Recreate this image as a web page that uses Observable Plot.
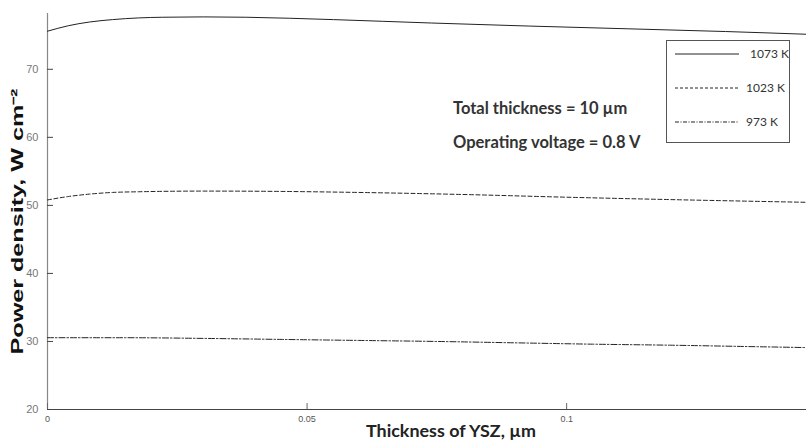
<!DOCTYPE html>
<html><head><meta charset="utf-8">
<script src="https://cdn.jsdelivr.net/npm/d3@7"></script>
<script src="https://cdn.jsdelivr.net/npm/@observablehq/plot@0.6"></script>
<style>
body{margin:0;background:#fff}
#wrap{position:relative;width:806px;height:443px}
.ann{position:absolute;font-family:Lato,sans-serif;font-weight:700;font-size:16.5px;color:#333;white-space:nowrap}
#legend{position:absolute;left:666px;top:40px;width:124px;height:103px;border:1px solid #555;box-sizing:border-box;background:#fff}
#legend .row{position:absolute;left:0;height:14px;font-family:Lato,sans-serif;font-size:12px;color:#333}
</style>
</head><body>
<div id="wrap"></div>
<script>
const series = ["1073 K", "1023 K", "973 K"];
const x1073 = [0, 0.004, 0.0081, 0.0125, 0.0175, 0.0222, 0.03, 0.0382, 0.0551, 0.074, 0.0929, 0.1118, 0.1306, 0.1462];
const y1073 = [75.6, 76.4, 76.95, 77.3, 77.55, 77.65, 77.7, 77.65, 77.3, 76.8, 76.35, 75.95, 75.55, 75.15];
const x1023 = [0, 0.004, 0.008, 0.0125, 0.0175, 0.03, 0.045, 0.06, 0.08, 0.1, 0.12, 0.1462];
const y1023 = [50.8, 51.3, 51.65, 51.9, 52.0, 52.1, 52.05, 51.9, 51.6, 51.2, 50.85, 50.45];
const x973 = [0, 0.015, 0.03, 0.045, 0.06, 0.075, 0.09, 0.105, 0.12, 0.135, 0.1462];
const y973 = [30.55, 30.55, 30.45, 30.3, 30.15, 30.0, 29.8, 29.6, 29.45, 29.25, 29.1];
const xTicks = [0, 0.05, 0.1];
const xTickLabels = ["0", "0.05", "0.1"];
const yTicks = [20, 30, 40, 50, 60, 70];
const dashes = ["none", "4,2.5", "6,2,1.5,2"];

const rows = [];
[[x1073, y1073], [x1023, y1023], [x973, y973]].forEach(([xs, ys], i) => {
  xs.forEach((x, j) => rows.push({series: series[i], x, y: ys[j]}));
});

const chart = Plot.plot({
  width: 806,
  height: 443,
  marginLeft: 47,
  marginRight: 0,
  marginTop: 13,
  marginBottom: 34,
  style: {background: "#fff"},
  x: {domain: [0, 0.1462], axis: null},
  y: {domain: [20, 78.2], axis: null},
  marks: [
    Plot.ruleX([0], {stroke: "#888", strokeWidth: 1.2}),
    Plot.ruleY([20], {stroke: "#444", strokeWidth: 1.2}),
    Plot.axisY(yTicks, {anchor: "left", tickSize: -6, tickPadding: 15, stroke: "#444", fill: "#777", fontSize: 11, fontFamily: "Liberation Sans, Arial, sans-serif", label: null}),
    Plot.axisX(xTicks, {anchor: "bottom", tickSize: -6, tickPadding: 12, stroke: "#666", fill: "#555", fontSize: 9, fontFamily: "Liberation Sans, Arial, sans-serif", tickFormat: (d, i) => xTickLabels[i], label: null}),
    ...series.map((s, i) => Plot.line(rows.filter(r => r.series === s), {x: "x", y: "y", stroke: "#222", strokeWidth: 1, strokeDasharray: dashes[i], curve: "monotone-x"})),
    Plot.text(["Thickness of YSZ, µm"], {frameAnchor: "bottom", dx: 24, dy: 27, fontWeight: "bold", fontSize: 17.5, fontFamily: "Lato, sans-serif", fill: "#222", className: "xtitle"}),
    Plot.text(["Power density, W cm⁻²"], {frameAnchor: "left", textAnchor: "middle", rotate: -90, dx: -30, dy: 10, fontWeight: "bold", fontSize: 16, fontFamily: "Liberation Sans, Arial, sans-serif", fill: "#111", className: "ytitle"})
  ]
});
const wrap = document.getElementById("wrap");
wrap.appendChild(chart);
d3.select(chart).selectAll(".ytitle text").attr("textLength", 266).attr("lengthAdjust", "spacingAndGlyphs");
d3.select(chart).selectAll(".xtitle text").attr("textLength", 170).attr("lengthAdjust", "spacingAndGlyphs");

const anns = [["Total thickness = 10 µm", 453, 98], ["Operating voltage = 0.8 V", 453, 132]];
anns.forEach(([t, l, tp]) => {
  const d = document.createElement("div");
  d.className = "ann"; d.textContent = t; d.style.left = l + "px"; d.style.top = tp + "px";
  wrap.appendChild(d);
});

const leg = document.createElement("div");
leg.id = "legend";
const legendRows = [{label: "1073 K", top: 5, textLeft: 83}, {label: "1023 K", top: 39, textLeft: 79}, {label: "973 K", top: 73, textLeft: 79}];
legendRows.forEach((r, i) => {
  const row = document.createElement("div");
  row.className = "row"; row.style.top = r.top + "px"; row.style.width = "124px";
  const ns = "http://www.w3.org/2000/svg";
  const svg = document.createElementNS(ns, "svg");
  svg.setAttribute("width", 80); svg.setAttribute("height", 16);
  svg.style.position = "absolute"; svg.style.left = "0px"; svg.style.top = "0px";
  const ln = document.createElementNS(ns, "line");
  ln.setAttribute("x1", 8); ln.setAttribute("x2", 72); ln.setAttribute("y1", 8); ln.setAttribute("y2", 8);
  ln.setAttribute("stroke", "#222"); ln.setAttribute("stroke-width", 1);
  if (dashes[i] !== "none") ln.setAttribute("stroke-dasharray", i === 1 ? "3,2" : "4,1.5,1,1.5");
  svg.appendChild(ln);
  row.appendChild(svg);
  const tx = document.createElement("span");
  tx.textContent = r.label; tx.style.position = "absolute"; tx.style.left = r.textLeft + "px"; tx.style.top = "0px";
  row.appendChild(tx);
  leg.appendChild(row);
});
wrap.appendChild(leg);
</script>
</body></html>
